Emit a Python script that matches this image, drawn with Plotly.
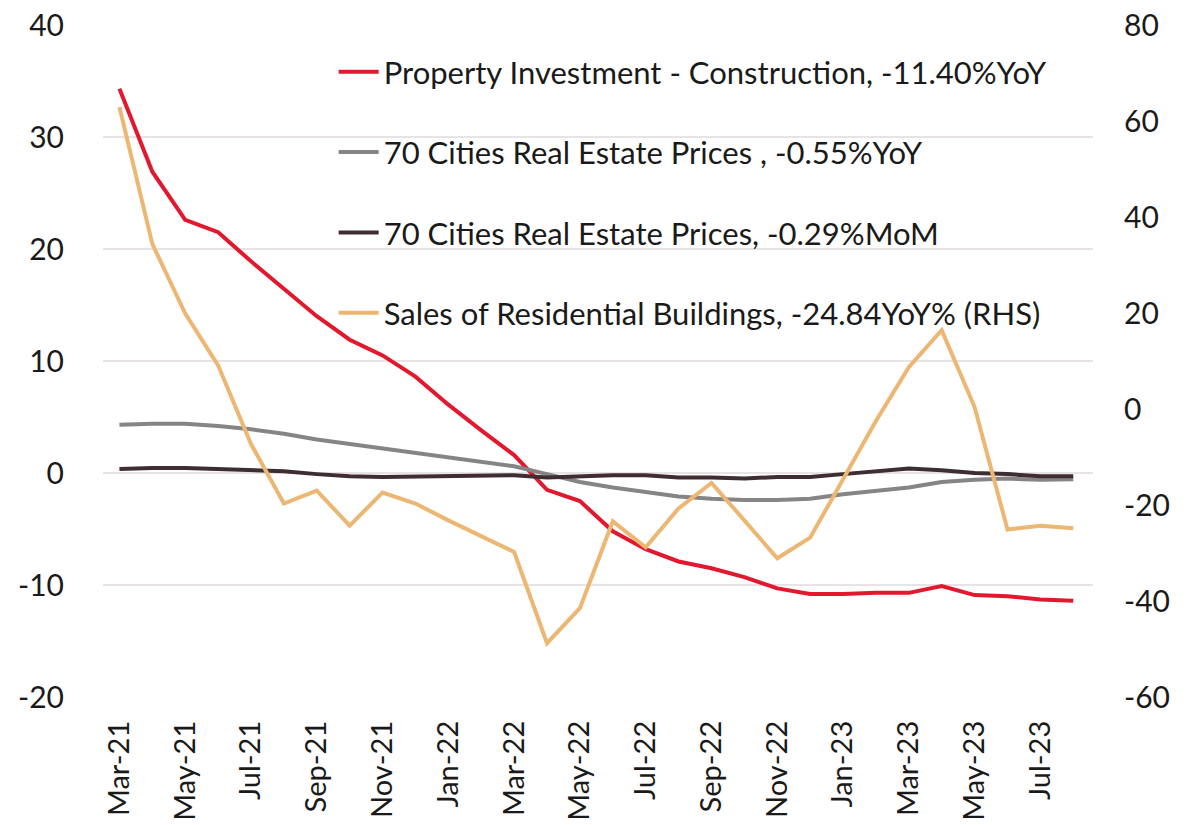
import plotly.graph_objects as go

months = ["Mar-21","Apr-21","May-21","Jun-21","Jul-21","Aug-21","Sep-21","Oct-21","Nov-21","Dec-21",
          "Jan-22","Feb-22","Mar-22","Apr-22","May-22","Jun-22","Jul-22","Aug-22","Sep-22","Oct-22",
          "Nov-22","Dec-22","Jan-23","Feb-23","Mar-23","Apr-23","May-23","Jun-23","Jul-23","Aug-23"]

property_investment = [34.3, 26.9, 22.6, 21.5, 18.9, 16.4, 14.0, 11.9, 10.5, 8.6,
                       6.1, 3.8, 1.6, -1.5, -2.5, -5.2, -6.8, -7.9, -8.5, -9.3,
                       -10.3, -10.8, -10.8, -10.7, -10.7, -10.1, -10.9, -11.0, -11.3, -11.4]
prices_yoy = [4.3, 4.4, 4.4, 4.2, 3.9, 3.5, 3.0, 2.6, 2.2, 1.8,
              1.4, 1.0, 0.6, -0.1, -0.8, -1.3, -1.7, -2.1, -2.3, -2.4,
              -2.4, -2.3, -1.9, -1.6, -1.3, -0.8, -0.6, -0.5, -0.6, -0.55]
prices_mom = [0.35, 0.45, 0.45, 0.35, 0.3, 0.15, -0.1, -0.3, -0.35, -0.3,
              -0.25, -0.2, -0.2, -0.4, -0.3, -0.2, -0.2, -0.4, -0.4, -0.5,
              -0.35, -0.35, -0.1, 0.15, 0.4, 0.25, 0.0, -0.1, -0.3, -0.29]
sales_residential = [62.9, 34.4, 19.9, 9.1, -7.3, -19.7, -17.0, -24.3, -17.4, -19.7,
                     -23.2, -26.5, -29.8, -48.8, -41.5, -23.4, -28.8, -20.7, -15.4, -23.2,
                     -31.1, -26.8, -14.5, -2.5, 8.7, 16.4, 0.4, -25.1, -24.3, -24.84]

names = ["Property Investment - Construction, -11.40%YoY",
         "70 Cities Real Estate Prices , -0.55%YoY",
         "70 Cities Real Estate Prices, -0.29%MoM",
         "Sales of Residential Buildings, -24.84YoY% (RHS)"]
colors = ["#E2182F", "#858585", "#3E2D31", "#ECB673"]

left_ticks = [-20, -10, 0, 10, 20, 30, 40]
right_ticks = [-60, -40, -20, 0, 20, 40, 60, 80]
tick_labels = months[::2]
FONT = "Lato"

fig = go.Figure()
series = [property_investment, prices_yoy, prices_mom, sales_residential]
for i, (vals, nm, col) in enumerate(zip(series, names, colors)):
    fig.add_trace(go.Scatter(
        x=months, y=vals, name=nm, mode="lines",
        line=dict(color=col, width=4),
        yaxis="y2" if i == 3 else "y",
        legendgroup=f"g{i}",
    ))

# page body has an 8px margin, so the figure is sized 8px smaller
fig.update_layout(
    width=1183, height=817,
    margin=dict(l=95, r=98, t=17, b=128, autoexpand=False),
    paper_bgcolor="white", plot_bgcolor="white",
    font=dict(family=FONT, size=30, color="#1a1a1a"),
    showlegend=True,
    legend=dict(x=0.233, y=0.97, xanchor="left", yanchor="top",
                bgcolor="rgba(0,0,0,0)", font=dict(size=31, family=FONT),
                tracegroupgap=37, itemwidth=40),
    xaxis=dict(type="category", categoryorder="array", categoryarray=months,
               range=[-0.5, 29.6], tickmode="array", tickvals=tick_labels,
               ticktext=tick_labels, tickangle=-90, showgrid=False,
               showline=False, zeroline=False, ticks="", automargin=False,
               ticklabelstandoff=17, tickfont=dict(size=29),
               ticklabeloverflow="allow"),
    yaxis=dict(range=[-20, 40], tickvals=left_ticks,
               ticktext=[str(v) for v in left_ticks],
               showgrid=True, gridcolor="#E8E3E5", gridwidth=2,
               zeroline=False, showline=False, ticks="", automargin=False,
               ticklabelstandoff=38, tickfont=dict(size=30),
               ticklabeloverflow="allow"),
    yaxis2=dict(range=[-60, 80], overlaying="y", side="right",
                tickvals=right_ticks, ticktext=[str(v) for v in right_ticks],
                showgrid=False, zeroline=False, showline=False, ticks="",
                automargin=False, ticklabelstandoff=30, tickfont=dict(size=30),
                ticklabeloverflow="allow"),
)

fig.write_html("out.html")
